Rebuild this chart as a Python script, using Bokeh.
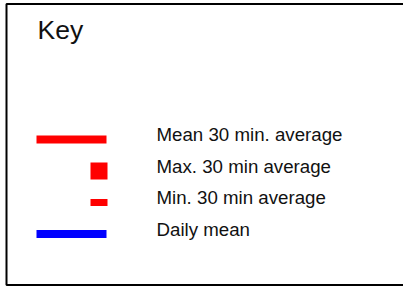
from bokeh.plotting import figure
from bokeh.models import Range1d
from bokeh.core.properties import value
from bokeh.embed import file_html
from bokeh.resources import INLINE

# Legend entries
labels = ["Mean 30 min. average", "Max. 30 min average", "Min. 30 min average", "Daily mean"]
colors = ["#ff0000", "#ff0000", "#ff0000", "#0000ff"]
kinds = ["line", "big", "small", "line"]
title = "Key"

W, H = 403, 288
p = figure(width=W, height=H, output_backend="svg", toolbar_location=None,
           x_range=Range1d(0, W), y_range=Range1d(H, 0), min_border=0)
p.margin = (0, 0, 0, 0)
p.axis.visible = False
p.grid.visible = False
p.outline_line_color = None
p.background_fill_color = "white"

# frame (open on the right)
p.line([W + 20, 6, 6, W + 20], [3.5, 3.5, 284.5, 284.5], line_color="black", line_width=2)

p.text([37], [29], text=[title], text_font=value("Liberation Sans"),
       text_font_size="26.5px", text_color="#111111", text_baseline="middle")

row_h = 31.5
y0 = 139
ty0 = 134.3
for i, (lab, col, kind) in enumerate(zip(labels, colors, kinds)):
    yc = y0 + i * row_h
    if kind == "line":
        p.quad(left=[36], right=[106], top=[yc - 4], bottom=[yc + 4], fill_color=col, line_color=None)
    elif kind == "big":
        p.quad(left=[90], right=[107], top=[yc - 8.5], bottom=[yc + 8.5], fill_color=col, line_color=None)
    else:
        p.quad(left=[90], right=[107], top=[yc - 3.5], bottom=[yc + 3.5], fill_color=col, line_color=None)
    p.text([156], [ty0 + i * 31.4], text=[lab], text_font=value("Liberation Sans"),
           text_font_size="18.7px", text_color="#111111", text_baseline="middle")

open("out.html", "w").write(file_html(p, INLINE))
